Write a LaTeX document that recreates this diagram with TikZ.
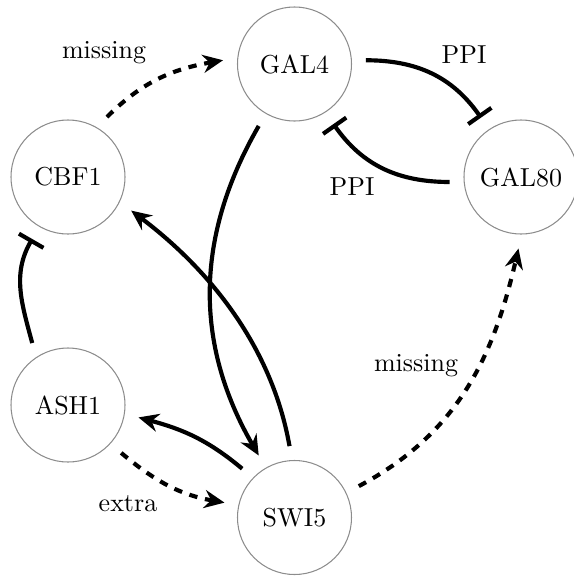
\documentclass[tikz,border=0pt]{standalone}
\usetikzlibrary{arrows.meta}
\begin{document}
\begin{tikzpicture}[x=0.385pt,y=-0.385pt,
  gene/.style={circle,draw=black!45,line width=0.4pt,minimum size=43.9pt,inner sep=0pt,outer sep=5.6pt},
  act/.style={line width=1.6pt,-{Stealth[length=7.8pt,width=7pt,inset=2.6pt]}},
  inh/.style={line width=1.6pt,-{Bar[width=10.9pt]}},
  pred/.style={dash pattern=on 3.2pt off 3pt}]
\useasboundingbox (0,0) rectangle (574,576);
% the genes
\node[gene] (gal4) at (294.5,64) {GAL4};
\node[gene] (cbf1) at (68,177) {CBF1};
\node[gene] (gal80) at (521,177) {GAL80};
\node[gene] (ash1) at (68,405) {ASH1};
\node[gene] (swi5) at (294.5,517.5) {SWI5};
% the interactions
\draw[act,pred] (cbf1.57) to[out=45,in=190] (gal4.177);
\draw[inh] (gal4.3) to[out=0,in=125] (gal80.124);
\draw[inh] (gal80.184) to[out=180,in=-55] (gal4.-57);
\draw[act] (gal4.-120) to[out=-120,in=120] (swi5.120);
\draw[act] (swi5.94) to[out=100,in=-37,looseness=0.9] (cbf1.-28);
\draw[inh] (ash1.120) to[out=105,in=-120] (cbf1.-120);
\draw[act] (swi5.137) to[out=140,in=-15] (ash1.-10);
\draw[act,pred] (ash1.-42) to[out=-40,in=170] (swi5.168);
\draw[act,pred] (swi5.26) to[out=28,in=-103] (gal80.-92);
% the labels
\node (miss1) at (104,53) {missing};
\node (ppi1) at (464,55) {PPI};
\node (ppi2) at (352,187) {PPI};
\node (miss2) at (416,366) {missing};
\node (extra) at (128,504) {extra};
\end{tikzpicture}
\end{document}
